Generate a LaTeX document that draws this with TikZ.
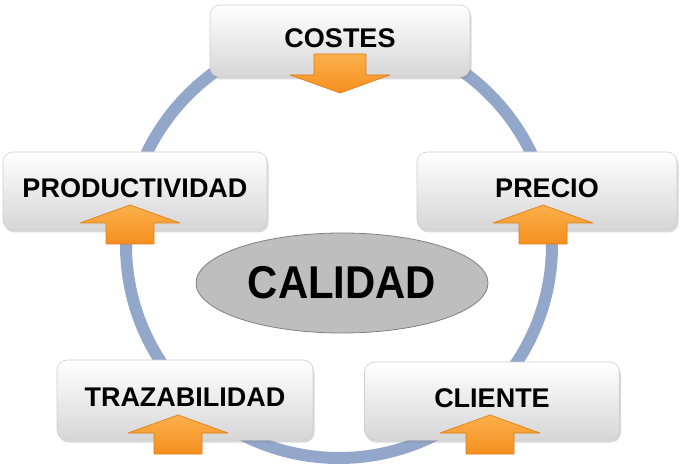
\documentclass[tikz,border=0pt]{standalone}
\usepackage{fontspec}
\setmainfont{Liberation Sans}
\usetikzlibrary{shadows,shapes.geometric}
\definecolor{ringcol}{HTML}{93A7CB}
\definecolor{boxedge}{HTML}{CFCFCF}
\definecolor{boxbot}{HTML}{D6D6D6}
\definecolor{calfill}{HTML}{BEBEBE}
\definecolor{caledge}{HTML}{808080}
\definecolor{arrtop}{HTML}{FBB04C}
\definecolor{arrbot}{HTML}{F58F1F}
\definecolor{arredge}{HTML}{E17E17}
\begin{document}
\begin{tikzpicture}[x=1pt,y=-1pt,
  ringline/.style={draw=ringcol,line width=12pt},
  labelbox/.style={rounded corners=10pt,draw=boxedge,line width=0.6pt,
    top color=white,bottom color=boxbot,
    drop shadow={opacity=0.3,shadow xshift=1.5pt,shadow yshift=-2.5pt},
    font=\fontsize{27}{27}\selectfont\bfseries,
    text height=19.5pt,text depth=6pt,inner sep=0pt},
  arrowfill/.style={draw=arredge,line width=0.7pt,line join=round,
    top color=arrtop,bottom color=arrbot},
  uparrow/.pic={\path[arrowfill] (0,0) -- (50,18) -- (24,18) -- (24,39)
      -- (-24,39) -- (-24,18) -- (-50,18) -- cycle;},
  downarrow/.pic={\path[arrowfill] (0,0) -- (50,-18) -- (26,-18) -- (26,-39)
      -- (-26,-39) -- (-26,-18) -- (-50,-18) -- cycle;}
]
\useasboundingbox (0,0) rectangle (681,476);
\coordinate (ringc) at (339,245);
\draw[ringline] (ringc) circle[radius=213];

\node[ellipse,minimum width=292pt,minimum height=100pt,inner sep=0pt,
  fill=calfill,draw=caledge,line width=0.8pt,
  font=\fontsize{46}{46}\selectfont\bfseries] (calidad) at (342,283)
  {\scalebox{0.91}[1]{CALIDAD}};

\node[labelbox,minimum width=260pt,minimum height=72pt] (costes) at (340,41) {COSTES};
\node[labelbox,minimum width=264pt,minimum height=78pt] (prod) at (135,191) {PRODUCTIVIDAD};
\node[labelbox,minimum width=260pt,minimum height=78pt] (precio) at (547,191) {PRECIO};
\node[labelbox,minimum width=256pt,minimum height=80pt] (traz) at (185,400) {TRAZABILIDAD};
\node[labelbox,minimum width=255pt,minimum height=78pt] (cliente) at (492,401) {CLIENTE};

\pic (acostes) at (340,93) {downarrow};
\pic (aprod) at (130,205) {uparrow};
\pic (aprecio) at (543,205) {uparrow};
\pic (atraz) at (178,415) {uparrow};
\pic (acliente) at (490,415) {uparrow};
\end{tikzpicture}
\end{document}
